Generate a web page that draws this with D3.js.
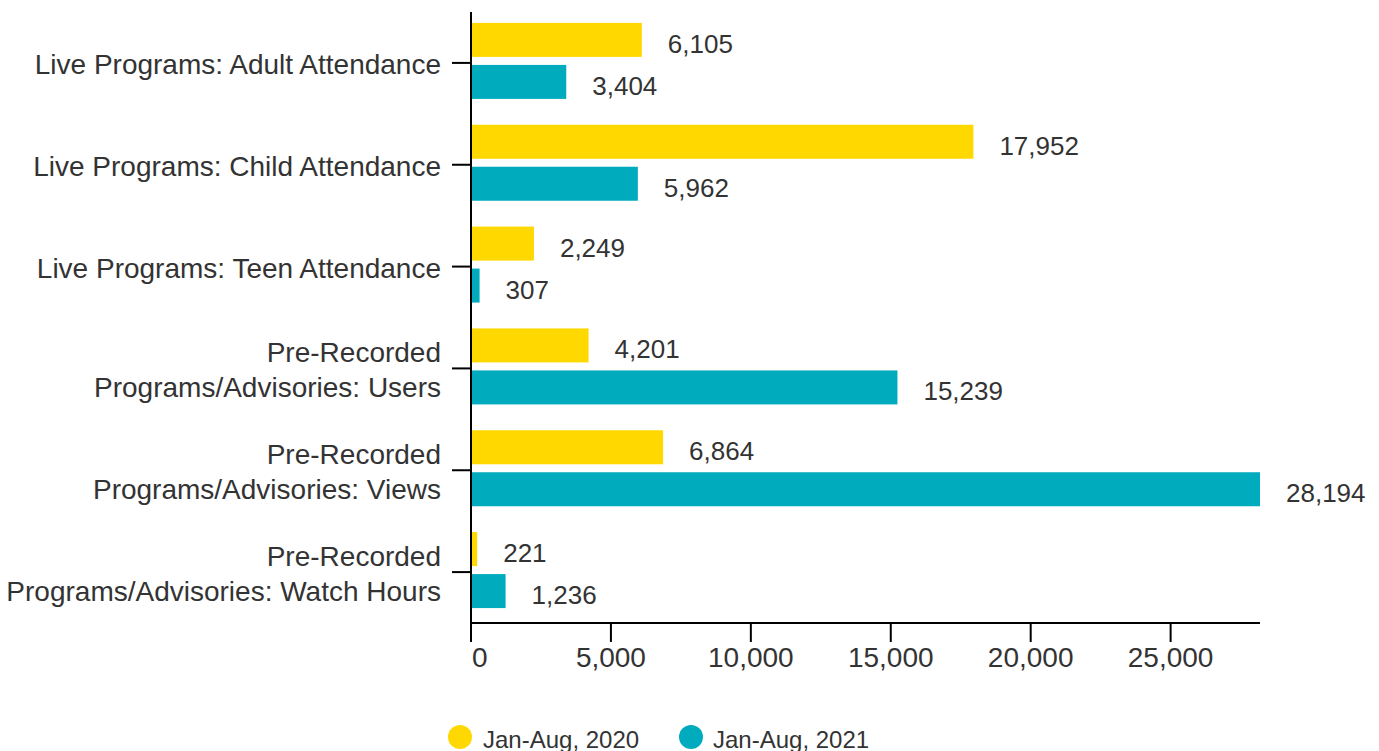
<!DOCTYPE html>
<html>
<head>
<meta charset="utf-8">
<script src="https://cdn.jsdelivr.net/npm/d3@7"></script>
<style>
  html, body { margin: 0; padding: 0; background: #fff; }
  svg { display: block; font-family: "Liberation Sans", Arial, sans-serif; }
</style>
</head>
<body>
<svg id="chart" width="1379" height="751"></svg>
<script>
// Program attendance, Jan-Aug 2020 vs 2021
const categories = [
  ["Live Programs: Adult Attendance"],
  ["Live Programs: Child Attendance"],
  ["Live Programs: Teen Attendance"],
  ["Pre-Recorded", "Programs/Advisories: Users"],
  ["Pre-Recorded", "Programs/Advisories: Views"],
  ["Pre-Recorded", "Programs/Advisories: Watch Hours"]
];
const values2020 = [6105, 17952, 2249, 4201, 6864, 221];
const values2021 = [3404, 5962, 307, 15239, 28194, 1236];
const seriesNames = ["Jan-Aug, 2020", "Jan-Aug, 2021"];
const seriesColors = ["#FFD800", "#00ABBD"];
const xTicks = [0, 5000, 10000, 15000, 20000, 25000];

const svg = d3.select("#chart");
const plotLeft = 471, plotRight = 1260, plotTop = 12, plotBottom = 623;
const textColor = "#333333";
const fmt = d3.format(",");

const x = d3.scaleLinear().domain([0, d3.max(values2021.concat(values2020))]).range([plotLeft, plotRight]);
const y = d3.scaleBand().domain(d3.range(categories.length)).range([plotTop, plotBottom]);

const series = [values2020, values2021];
const barH = 34;
const offsets = [-40, 2]; // bar top relative to band center

// bars and value labels
series.forEach((vals, si) => {
  svg.append("g").selectAll("rect").data(vals).join("rect")
    .attr("x", x(0))
    .attr("y", (d, i) => y(i) + y.bandwidth() / 2 + offsets[si])
    .attr("width", d => x(d) - x(0))
    .attr("height", barH)
    .attr("fill", seriesColors[si]);

  svg.append("g").selectAll("text").data(vals).join("text")
    .attr("x", d => x(d) + 26)
    .attr("y", (d, i) => y(i) + y.bandwidth() / 2 + offsets[si] + barH / 2 + 4)
    .attr("dominant-baseline", "central")
    .attr("font-size", 26)
    .attr("fill", textColor)
    .text(d => fmt(d));
});

// y axis
const yAxis = svg.append("g");
yAxis.append("line").attr("x1", plotLeft).attr("x2", plotLeft).attr("y1", plotTop).attr("y2", plotBottom)
  .attr("stroke", "#000").attr("stroke-width", 2);
categories.forEach((lines, i) => {
  const cy = y(i) + y.bandwidth() / 2;
  yAxis.append("line").attr("x1", plotLeft - 19).attr("x2", plotLeft).attr("y1", cy).attr("y2", cy)
    .attr("stroke", "#000").attr("stroke-width", 2);
  const t = yAxis.append("text").attr("text-anchor", "end").attr("font-size", 28).attr("fill", textColor);
  const lh = 35;
  lines.forEach((ln, k) => {
    t.append("tspan").attr("x", plotLeft - 30)
      .attr("y", cy + 2 + (k - (lines.length - 1) / 2) * lh)
      .attr("dominant-baseline", "central")
      .text(ln);
  });
});

// x axis
const xAxis = svg.append("g");
xAxis.append("line").attr("x1", plotLeft).attr("x2", plotRight).attr("y1", plotBottom).attr("y2", plotBottom)
  .attr("stroke", "#000").attr("stroke-width", 2);
xAxis.selectAll("line.tick").data(xTicks).join("line").attr("class", "tick")
  .attr("x1", d => x(d)).attr("x2", d => x(d)).attr("y1", plotBottom).attr("y2", plotBottom + 19)
  .attr("stroke", "#000").attr("stroke-width", 2);
xAxis.selectAll("text").data(xTicks).join("text")
  .attr("x", d => d === 0 ? x(d) + 1 : x(d))
  .attr("y", 657)
  .attr("text-anchor", d => d === 0 ? "start" : "middle")
  .attr("dominant-baseline", "central")
  .attr("font-size", 28)
  .attr("fill", textColor)
  .text(d => fmt(d));

// legend
const legendItems = [{ cx: 460, tx: 483 }, { cx: 691, tx: 713 }];
legendItems.forEach((p, i) => {
  svg.append("circle").attr("cx", p.cx).attr("cy", 737).attr("r", 12).attr("fill", seriesColors[i]);
  svg.append("text").attr("x", p.tx).attr("y", 739).attr("dominant-baseline", "central")
    .attr("font-size", 24).attr("fill", textColor).text(seriesNames[i]);
});
</script>
</body>
</html>
